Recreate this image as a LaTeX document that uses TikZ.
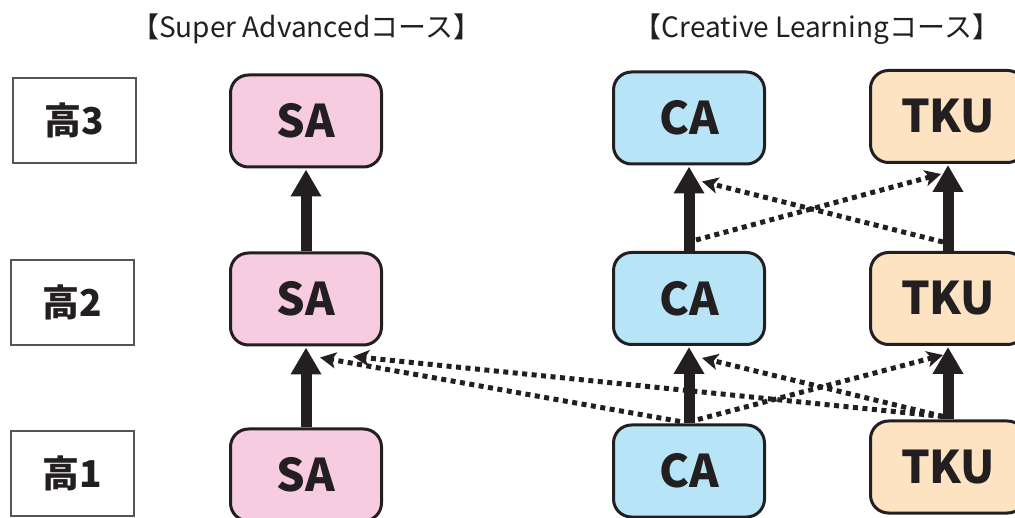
\documentclass[tikz,border=0pt]{standalone}
\usepackage{fontspec}
\setmainfont{Noto Sans CJK JP}
\usetikzlibrary{arrows.meta}
\definecolor{ink}{HTML}{231F20}
\definecolor{pinkf}{HTML}{F8CCE0}
\definecolor{bluef}{HTML}{B8E4F8}
\definecolor{orangef}{HTML}{FDE3C2}
\definecolor{graybd}{HTML}{555555}
\tikzset{
  course/.style={draw=ink, line width=3pt, rounded corners=18pt, minimum height=92pt,
    text=ink, font=\fontsize{45}{50}\selectfont\bfseries, inner sep=0pt},
  sabox/.style={course, fill=pinkf, minimum width=151pt},
  cabox/.style={course, fill=bluef, minimum width=151pt},
  tkubox/.style={course, fill=orangef, minimum width=155pt},
  gradebox/.style={draw=graybd, line width=1.5pt, minimum width=123pt, minimum height=85pt,
    text=ink, font=\fontsize{37}{42}\selectfont\bfseries, inner sep=0pt},
  header/.style={text=ink, font=\fontsize{28}{32}\selectfont, inner sep=0pt},
  upflow/.style={draw=ink, fill=ink, line width=11pt, -{Triangle[width=29pt,length=27pt]}},
  crossflow/.style={draw=ink, line width=5pt, dash pattern=on 5pt off 4.5pt,
    -{Stealth[length=16pt,width=16pt,inset=4pt]}},
}
\begin{document}
\begin{tikzpicture}[x=1pt,y=-1pt]
\useasboundingbox (0,0) rectangle (1015,518);
% headers
\node[header] (h1) at (306,29) {【Super Advancedコース】};
\node[header] (h2) at (817,29) {【Creative Learningコース】};
% grade boxes
\node[gradebox] (g3) at (74.5,120.5) {高3};
\node[gradebox] (g2) at (72.5,302.5) {高2};
\node[gradebox] (g1) at (72.5,473.5) {高1};
% SA column
\node[sabox] (sa3) at (306,121) {SA};
\node[sabox] (sa2) at (306,299) {SA};
\node[sabox] (sa1) at (306,475) {SA};
% CA column
\node[cabox] (ca3) at (689,118) {CA};
\node[cabox] (ca2) at (689,298.5) {CA};
\node[cabox] (ca1) at (689,471) {CA};
% TKU column
\node[tkubox] (tk3) at (948,116.5) {TKU};
\node[tkubox] (tk2) at (948,298.5) {TKU};
\node[tkubox] (tk1) at (948,467) {TKU};
% solid arrows
\draw[upflow] (sa1.north) -- ([yshift=-1pt]sa2.south);
\draw[upflow] (sa2.north) -- ([yshift=-1pt]sa3.south);
\draw[upflow] (ca1.north) -- ([yshift=-1pt]ca2.south);
\draw[upflow] (ca2.north) -- ([yshift=-1pt]ca3.south);
\draw[upflow] (tk1.north) -- ([yshift=-1pt]tk2.south);
\draw[upflow] (tk2.north) -- ([yshift=-1pt]tk3.south);
% dotted cross arrows, row 2 -> row 3
\draw[crossflow] ([xshift=7pt,yshift=11pt]ca2.north) -- ([xshift=-7pt,yshift=-10pt]tk3.south);
\draw[crossflow] ([xshift=-5pt,yshift=9pt]tk2.north) -- ([xshift=13pt,yshift=-16pt]ca3.south);
% dotted cross arrows, row 1 -> row 2
\draw[crossflow] ([xshift=9pt,yshift=4pt]ca1.north) -- ([xshift=-5pt,yshift=-9pt]tk2.south);
\draw[crossflow] ([xshift=-5pt,yshift=3pt]tk1.north) -- ([xshift=13pt,yshift=-12pt]ca2.south);
\draw[crossflow] ([xshift=-9pt,yshift=2pt]ca1.north) -- ([xshift=14pt,yshift=-11pt]sa2.south);
\draw[crossflow] ([xshift=-5pt,yshift=3pt]tk1.north) -- ([xshift=47pt,yshift=-10pt]sa2.south);
\end{tikzpicture}
\end{document}
